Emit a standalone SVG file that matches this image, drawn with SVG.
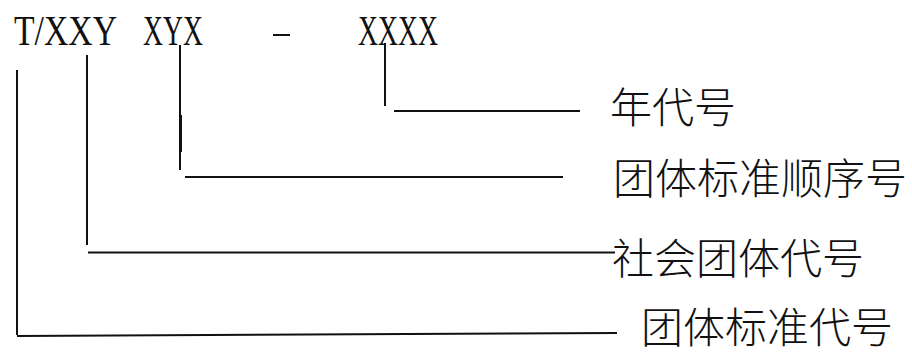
<svg xmlns="http://www.w3.org/2000/svg" width="912" height="352" viewBox="0 0 912 352">
<style>
.code{font-family:"Liberation Serif","DejaVu Serif",serif;font-size:42px;fill:#111;}
.lbl{font-family:"Noto Sans CJK SC","Noto Sans CJK JP",sans-serif;font-size:42px;font-weight:300;fill:#111;}
.ln{stroke:#111;stroke-width:2;fill:none;stroke-linecap:butt;}
</style>
<rect width="912" height="352" fill="#ffffff"/>
<g id="code">
<text class="code" x="14" y="45" textLength="103" lengthAdjust="spacingAndGlyphs">T/XXY</text>
<text class="code" x="143" y="45" textLength="60" lengthAdjust="spacingAndGlyphs">XYX</text>
<line x1="273" y1="35" x2="290" y2="35" stroke="#111" stroke-width="2"/>
<text class="code" x="358" y="45" textLength="80" lengthAdjust="spacingAndGlyphs">XXXX</text>
</g>
<g id="connectors">
<line class="ln" x1="17" y1="70" x2="17" y2="335"/>
<line class="ln" x1="17" y1="336" x2="617" y2="333"/>
<line class="ln" x1="87" y1="55" x2="87" y2="245"/>
<line class="ln" x1="88" y1="252.5" x2="615" y2="252.5"/>
<line class="ln" x1="180" y1="45" x2="180" y2="170"/>
<line class="ln" x1="180.5" y1="115" x2="180.5" y2="152" style="stroke-width:3"/>
<line class="ln" x1="185" y1="177" x2="563" y2="177"/>
<line class="ln" x1="385" y1="43" x2="385" y2="106"/>
<line class="ln" x1="394" y1="111" x2="580" y2="111"/>
</g>
<g id="label-year"><text class="lbl" x="610" y="122.5">年代号</text></g>
<g id="label-seq"><text class="lbl" x="613" y="194">团体标准顺序号</text></g>
<g id="label-org"><text class="lbl" x="612" y="273.5">社会团体代号</text></g>
<g id="label-std"><text class="lbl" x="641" y="343">团体标准代号</text></g>
</svg>
